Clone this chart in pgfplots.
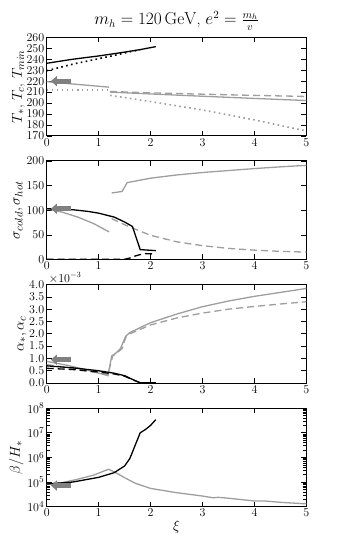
\documentclass[border=0pt]{standalone}
\usepackage{pgfplots}
\pgfplotsset{compat=1.18}
\usepgfplotslibrary{groupplots}
\usetikzlibrary{arrows.meta}

\definecolor{lgray}{gray}{0.62}
\definecolor{agray}{gray}{0.5}

\begin{document}
\begin{tikzpicture}
\begin{groupplot}[
  group style={group size=1 by 4, vertical sep=25pt, group name=grp},
  scale only axis, width=259.5pt, height=98.5pt,
  xmin=0, xmax=5, xtick={0,1,2,3,4,5},
  tick align=inside, major tick length=5pt, minor tick length=3pt,
  tick style={black, line width=0.6pt},
  axis line style={line width=1pt},
  ticklabel style={font=\fontsize{13}{14}\selectfont},
  xticklabel style={yshift=1pt},
  yticklabel style={xshift=1pt},
  label style={font=\fontsize{15}{16}\selectfont},
  every axis plot/.append style={line width=1.3pt},
  dsh/.style={dash pattern=on 7pt off 4pt},
  dtt/.style={line width=1.6pt, dash pattern=on 1.6pt off 3.4pt},
  clip=true,
]

%------------- T panel -------------
\nextgroupplot[ymin=170, ymax=260, ytick={170,180,...,260},
  ylabel={$T_*$, $T_c$, $T_{min}$}, ylabel shift=-5pt,
  yticklabel style={font=\fontsize{12}{12}\selectfont},
  title={$m_h = 120\,\mathrm{GeV}$, $e^2 = \frac{m_h}{v}$},
  title style={font=\fontsize{16}{17}\selectfont, yshift=-3pt}]
\addplot[black] coordinates {(0,236.3)(0.5,240)(1,243)(1.5,246.5)(1.8,248.8)(2.1,251.5)};
\addplot[black, dtt] coordinates {(0,229.5)(0.5,235.5)(1,240.5)(1.3,243.5)(1.6,246.8)(1.8,248.6)};
\addplot[lgray] coordinates {(0,219.5)(0.6,217)(1.2,214.5)};
\addplot[lgray] coordinates {(1.22,210)(2,208.3)(3,206.2)(4,204.2)(5,202.3)};
\addplot[lgray, dsh] coordinates {(1.22,210.6)(2,209.3)(3,208.1)(4,207)(5,206)};
\addplot[lgray, dtt] coordinates {(0,212)(0.6,212)(1.18,212)};
\addplot[lgray, dtt] coordinates {(1.22,207)(1.5,205)(2,201.3)(2.5,197.5)(3,193.7)(3.5,189.2)(4,184.6)(4.5,179.5)(5,174.5)};
\addplot[agray, line width=5pt, -{Triangle[length=6pt,width=10pt]}] coordinates {(0.47,220)(0.08,220)};

%------------- sigma panel -------------
\nextgroupplot[ymin=0, ymax=200, ytick={0,50,...,200},
  ylabel={$\sigma_{cold}, \sigma_{hot}$}, ylabel shift=-3pt]
\addplot[lgray] coordinates {(1.25,135)(1.45,138)(1.55,156)(2,165)(2.5,171.5)(3,176.5)(3.5,180.5)(4,184.5)(4.5,188)(5,191)};
\addplot[lgray] coordinates {(0,103)(0.3,96)(0.6,86)(0.9,73)(1.2,56)};
\addplot[lgray, dsh] coordinates {(1.25,83)(1.45,73)(1.6,66)(2,49)(2.5,36)(3,28)(3.5,22.5)(4,19)(4.5,16.5)(5,15)};
\addplot[black] coordinates {(0,103)(0.5,101)(0.8,97.5)(1,94)(1.3,86)(1.5,76)(1.65,67)(1.72,45)(1.8,20)(2.1,18)};
\addplot[black, dsh] coordinates {(0,0.5)(1.5,0.5)(1.6,3)(1.7,7)(1.8,10)(1.9,12)(2.1,11)};
\addplot[agray, line width=5pt, -{Triangle[length=6pt,width=10pt]}] coordinates {(0.47,103)(0.08,103)};

%------------- alpha panel -------------
\nextgroupplot[ymin=0, ymax=0.004, ytick={0,0.0005,...,0.0041},
  scaled y ticks=base 10:3,
  ytick scale label code/.code={$\times 10^{#1}$},
  every y tick scale label/.style={at={(rel axis cs:0,1)}, anchor=south west, inner sep=1pt, font=\fontsize{12}{12}\selectfont},
  yticklabel style={font=\fontsize{12}{12}\selectfont, /pgf/number format/fixed, /pgf/number format/fixed zerofill, /pgf/number format/precision=1},
  ylabel={$\alpha_*, \alpha_c$}, ylabel shift=-4pt]
\addplot[lgray] coordinates {(0,0.00088)(0.4,0.00072)(0.8,0.00052)(1.18,0.0003)(1.25,0.0011)(1.35,0.00125)(1.42,0.0014)(1.52,0.0019)(1.6,0.00205)(2,0.00245)(2.5,0.0028)(3,0.0031)(3.5,0.00333)(4,0.00352)(4.5,0.00368)(5,0.00384)};
\addplot[lgray, dsh] coordinates {(0,0.00075)(0.4,0.00063)(0.8,0.00048)(1.18,0.00035)(1.22,0.0007)(1.27,0.0011)(1.35,0.00122)(1.45,0.0014)(1.52,0.00185)(1.6,0.002)(2,0.00236)(2.5,0.00264)(3,0.00284)(3.5,0.003)(4,0.00311)(4.5,0.00321)(5,0.0033)};
\addplot[black] coordinates {(0,0.0007)(0.5,0.00062)(1,0.0005)(1.3,0.0004)(1.5,0.0003)(1.65,0.00015)(1.8,0.00001)(2.1,0.00001)};
\addplot[black, dsh] coordinates {(0,0.0006)(0.5,0.00055)(1,0.00045)(1.3,0.00037)(1.5,0.00028)(1.65,0.00014)(1.8,0.00001)};
\addplot[agray, line width=5pt, -{Triangle[length=6pt,width=10pt]}] coordinates {(0.47,0.00095)(0.08,0.00095)};

%------------- beta panel -------------
\nextgroupplot[ymode=log, ymin=1e4, ymax=1e8, ytick={1e4,1e5,1e6,1e7,1e8},
  ylabel={$\beta/H_*$}, xlabel={$\xi$}, ylabel shift=-3pt, xlabel shift=-3pt]
\addplot[lgray] coordinates {(0,8e4)(0.3,9.5e4)(0.6,1.3e5)(0.9,1.9e5)(1.19,3.3e5)(1.23,3.0e5)(1.3,2.6e5)(1.5,1.5e5)(1.7,9e4)(2,5.5e4)(2.5,3.7e4)(3,2.7e4)(3.2,2.3e4)(3.3,2.4e4)(3.5,2.2e4)(4,1.7e4)(4.2,1.7e4)(4.5,1.5e4)(5,1.3e4)};
\addplot[black] coordinates {(0,8.3e4)(0.5,1.0e5)(1,1.55e5)(1.3,2.4e5)(1.5,4.5e5)(1.6,9e5)(1.7,3e6)(1.8,1e7)(1.9,1.35e7)(2,2e7)(2.1,3.4e7)};
\addplot[agray, line width=5pt, -{Triangle[length=6pt,width=10pt]}] coordinates {(0.47,7.2e4)(0.08,7.2e4)};
\end{groupplot}
\pgfresetboundingbox
\path[use as bounding box] ($(grp c1r1.north west)+(-46.7pt,37.3pt)$) rectangle ($(grp c1r4.south east)+(35pt,-38.3pt)$);
\end{tikzpicture}
\end{document}
